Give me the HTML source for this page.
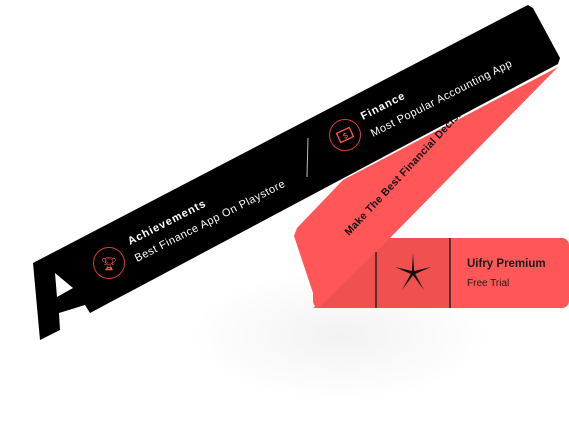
<!DOCTYPE html>
<html><head><style>
html,body{margin:0;padding:0;background:#fff;width:569px;height:427px;overflow:hidden}
svg text{font-family:"Liberation Sans",sans-serif}
</style></head><body>
<svg width="569" height="427" viewBox="0 0 569 427" xmlns="http://www.w3.org/2000/svg">
<defs>
<radialGradient id="sh" cx="0.5" cy="0.5" r="0.5">
<stop offset="0" stop-color="#000" stop-opacity="0.05"/>
<stop offset="1" stop-color="#000" stop-opacity="0"/>
</radialGradient>
</defs>
<ellipse cx="340" cy="335" rx="150" ry="65" fill="url(#sh)"/>
<polygon points="558,67 390,238 313,308 318,308 294,236 297,228 343,180" fill="#ff5757"/>
<rect x="313" y="238" width="256" height="70" rx="7" fill="#ff5757"/>
<polygon points="390,238 450,238 450,308 318,308" fill="#f05050"/>
<line x1="376" y1="252" x2="376" y2="308" stroke="#222" stroke-width="1.5"/>
<line x1="450" y1="238" x2="450" y2="308" stroke="#222" stroke-width="1.5"/>
<g transform="translate(413,273)" fill="#111">
<polygon points="0,-20 1.2,-1 -1.2,-1"/>
<polygon points="18,-6 1,1.5 -1,-1.5"/>
<polygon points="11,17 -1,1 1.2,-1"/>
<polygon points="-11,17 -1.2,-1 1,1"/>
<polygon points="-18,-6 1,-1.5 -1,1.5"/>
</g>
<text x="467" y="267" font-size="11.5" font-weight="bold" fill="#1a1a1a">Uifry Premium</text>
<text x="467" y="286" font-size="10" fill="#1a1a1a">Free Trial</text>
<text transform="translate(349,236) rotate(-47)" font-size="10.5" font-weight="bold" fill="#111" letter-spacing="0.3">Make The Best Financial Decisions</text>
<polygon points="33,263 520,9 528,5 533,8 560,58 558,64 90,313 85,305 59,313 60,330 40,340" fill="#000"/>
<polygon points="55,273 57,297 73,288" fill="#fff"/>
<circle cx="109" cy="263" r="15.5" fill="none" stroke="#d83c3c" stroke-width="1"/>
<text x="109" y="268" font-size="13" fill="#ff5757" text-anchor="middle">🏆︎</text>
<circle cx="345" cy="135" r="15.5" fill="none" stroke="#d83c3c" stroke-width="1"/>
<rect x="338" y="130" width="14" height="10" fill="none" stroke="#ff5757" stroke-width="1.3" transform="rotate(-25 345 135)"/>
<text x="345" y="138.5" font-size="8" fill="#ff5757" text-anchor="middle" transform="rotate(-25 345 135)">$</text>
<line x1="308" y1="138" x2="307" y2="177" stroke="#bbb" stroke-width="1"/>
<text transform="translate(130,245) rotate(-27)" font-size="11" font-weight="bold" fill="#fff" letter-spacing="1">Achievements</text>
<text transform="translate(137,262) rotate(-27)" font-size="11" fill="#fff" letter-spacing="0.5">Best Finance App On Playstore</text>
<text transform="translate(363,120) rotate(-27)" font-size="11" font-weight="bold" fill="#fff" letter-spacing="1">Finance</text>
<text transform="translate(373,137) rotate(-27)" font-size="11" fill="#fff" letter-spacing="0.5">Most Popular Accounting App</text>
</svg>
</body></html>
